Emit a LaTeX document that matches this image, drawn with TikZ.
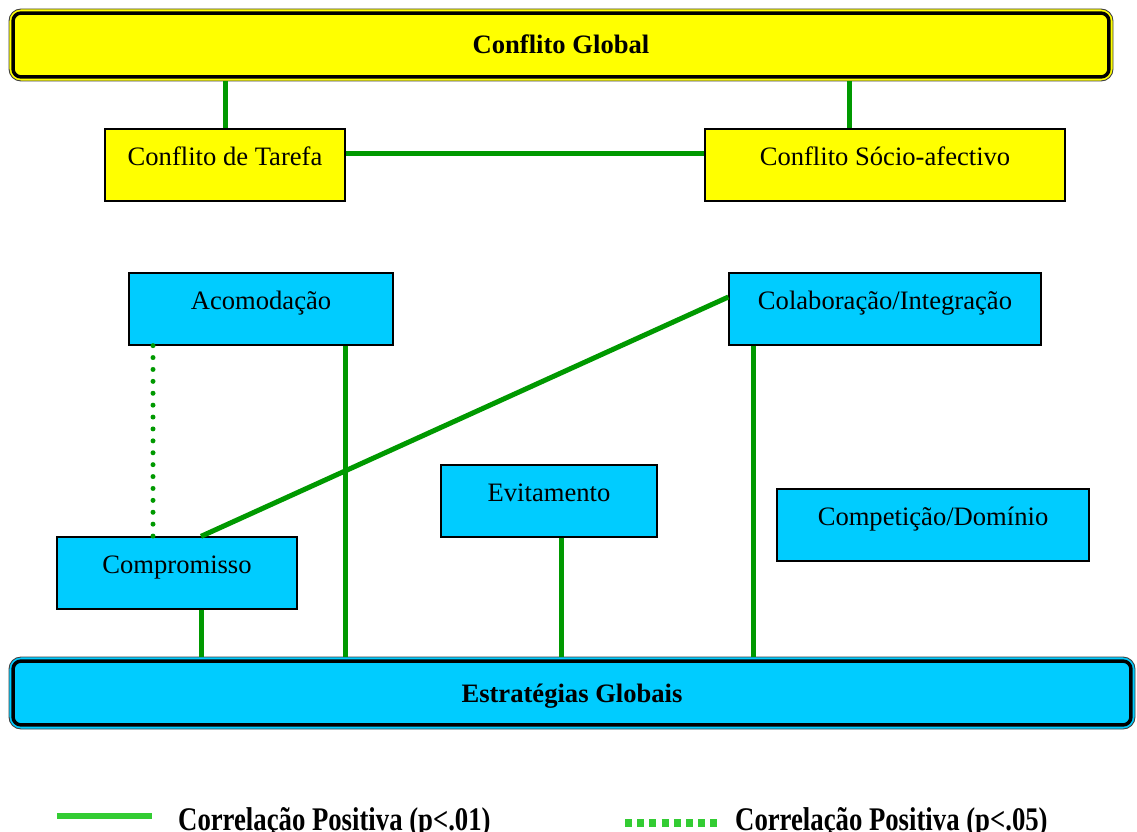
\documentclass[tikz,border=0pt]{standalone}
\usepackage{fontspec}
\setmainfont{Liberation Serif}
\usetikzlibrary{calc}
\definecolor{yel}{HTML}{FFFF00}
\definecolor{cyn}{HTML}{00CCFF}
\definecolor{dgreen}{HTML}{009900}
\definecolor{lgreen}{HTML}{33CC33}
\begin{document}
\begin{tikzpicture}[x=1pt,y=-1pt,
  box/.style={draw=black, line width=1.3, minimum height=72, inner sep=0pt,
    text height=19, text depth=19, font=\fontsize{26.6}{30}\selectfont},
  bigbox/.style={draw=black!75, line width=0.9, rounded corners=12, minimum height=72, inner sep=0pt,
    text height=18, text depth=0, font=\fontsize{26.6}{30}\selectfont\bfseries},
  strong/.style={draw=dgreen, line width=5},
  weak/.style={draw=dgreen, line width=5, line cap=round, dash pattern=on 0pt off 11.9pt},
  legtext/.style={anchor=base west, inner sep=0pt, font=\fontsize{33}{36}\selectfont\bfseries}
]
\useasboundingbox (0,0) rectangle (1137,832);

% top level
\node[bigbox, fill=yel, minimum width=1104] (cg) at (561,45) {Conflito Global};
\draw[line width=3.5, rounded corners=8] ($(cg.south west)+(4.5,-4.5)$) rectangle ($(cg.north east)+(-4.5,4.5)$);

\node[box, fill=yel, minimum width=240] (tar) at (225,165) {Conflito de Tarefa};
\node[box, fill=yel, minimum width=360] (soc) at (885,165) {Conflito Sócio-afectivo};

% strategies
\node[box, fill=cyn, minimum width=264] (acom) at (261,309) {Acomodação};
\node[box, fill=cyn, minimum width=312] (colab) at (885,309) {Colaboração/Integração};
\node[box, fill=cyn, minimum width=216] (evit) at (549,501) {Evitamento};
\node[box, fill=cyn, minimum width=312] (compet) at (933,525) {Competição/Domínio};
\node[box, fill=cyn, minimum width=240] (compr) at (177,573) {Compromisso};

\node[bigbox, fill=cyn, minimum width=1126] (est) at (572,693) {Estratégias Globais};
\draw[line width=3.5, rounded corners=8] ($(est.south west)+(4.5,-4.5)$) rectangle ($(est.north east)+(-4.5,4.5)$);

% helper coordinates
\coordinate (x225) at (225,0);
\coordinate (x849) at (849,0);
\coordinate (y153) at (0,153);
\coordinate (x153) at (153,0);
\coordinate (x345) at (345,0);
\coordinate (x753) at (753,0);
\coordinate (x561) at (561,0);
\coordinate (x201) at (201,0);
\coordinate (y297) at (0,297);

% connectors
\draw[strong] (cg.south -| x225) -- (x225 |- tar.north);
\draw[strong] (cg.south -| x849) -- (x849 |- soc.north);
\draw[strong] (tar.east |- y153) -- (soc.west |- y153);

\draw[weak] (acom.south -| x153) -- (x153 |- compr.north);
\draw[strong] (acom.south -| x345) -- (x345 |- est.north);
\draw[strong] (colab.west |- y297) -- (compr.north -| x201);
\draw[strong] (colab.south -| x753) -- (x753 |- est.north);
\draw[strong] (evit.south -| x561) -- (x561 |- est.north);
\draw[strong] (compr.south -| x201) -- (x201 |- est.north);

% legend
\coordinate (l1a) at (57,816);
\coordinate (l1b) at (152,816);
\draw[draw=lgreen, line width=6] (l1a) -- (l1b);
\node[legtext] (lt1) at (178,830) {\scalebox{0.81}[1]{Correlação Positiva (p<.01)}};
\coordinate (l2a) at (625,823);
\coordinate (l2b) at (720,823);
\draw[draw=lgreen, line width=8, dash pattern=on 7pt off 5.2pt] (l2a) -- (l2b);
\node[legtext] (lt2) at (735,830) {\scalebox{0.81}[1]{Correlação Positiva (p<.05)}};
\end{tikzpicture}
\end{document}
